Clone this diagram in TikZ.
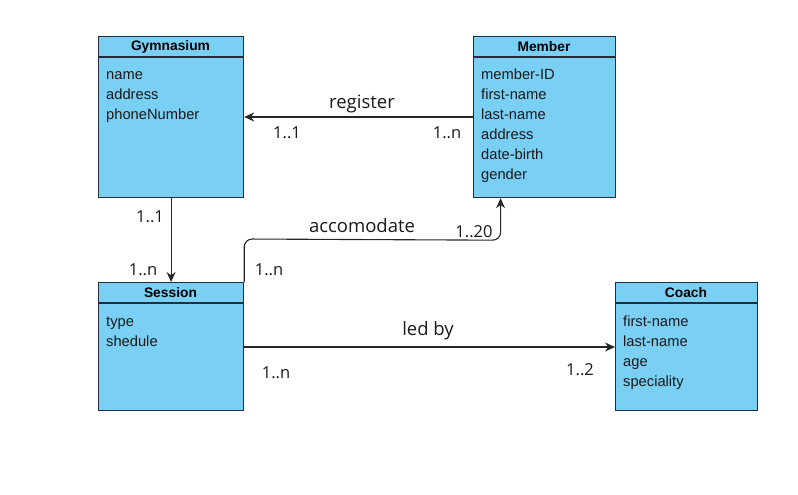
\documentclass[tikz,border=0pt]{standalone}
\usepackage{fontspec}
\setmainfont{Liberation Sans}
\newfontfamily\lblfont{Open Sans}
\usetikzlibrary{arrows.meta}
\definecolor{boxfill}{RGB}{122,207,245}
\definecolor{boxline}{RGB}{35,45,60}
\definecolor{txt}{RGB}{25,25,25}
\begin{document}
\begin{tikzpicture}[x=1pt,y=-1pt,
 entity/.style={draw=boxline, fill=boxfill, line width=1.2pt, rectangle, inner sep=0pt, anchor=north west},
 ttl/.style={font=\bfseries\fontsize{13.8}{16}\selectfont, anchor=center, inner sep=0pt, text=black},
 attrs/.style={font=\fontsize{14.7}{20}\selectfont, align=left, anchor=north west, inner sep=0pt, text=txt},
 lbl/.style={font=\lblfont\fontsize{18.5}{22}\selectfont, inner sep=0pt, text=txt},
 card/.style={font=\lblfont\fontsize{16.5}{20}\selectfont, inner sep=0pt, text=txt},
 conn/.style={draw=black!85, line width=1.1pt, -{Stealth[length=10pt,width=9pt]}},
 hdr/.style={draw=boxline, line width=1.2pt}
]
\useasboundingbox (0,0) rectangle (798,495);

% entities
\node[entity, minimum width=145pt, minimum height=161pt] (gym) at (98,36) {};
\node[entity, minimum width=142pt, minimum height=161pt] (mem) at (473,36) {};
\node[entity, minimum width=145pt, minimum height=128pt] (ses) at (98,282) {};
\node[entity, minimum width=142pt, minimum height=128pt] (coach) at (615,282) {};

\draw[hdr] ([yshift=-21pt]gym.north west) -- ([yshift=-21pt]gym.north east);
\draw[hdr] ([yshift=-21pt]mem.north west) -- ([yshift=-21pt]mem.north east);
\draw[hdr] ([yshift=-21pt]ses.north west) -- ([yshift=-21pt]ses.north east);
\draw[hdr] ([yshift=-21pt]coach.north west) -- ([yshift=-21pt]coach.north east);

\node[ttl] (gymt) at (170.5,46.5) {Gymnasium};
\node[ttl] (memt) at (544,46.5) {Member};
\node[ttl] (sest) at (170.5,292.5) {Session};
\node[ttl] (coacht) at (686,292.5) {Coach};

\node[attrs] (gyma) at (106,65) {\strut name\\address\\phoneNumber};
\node[attrs] (mema) at (481,65) {\strut member-ID\\first-name\\last-name\\address\\date-birth\\gender};
\node[attrs] (sesa) at (106,312) {\strut type\\shedule};
\node[attrs] (coacha) at (623,312) {\strut first-name\\last-name\\age\\speciality};

% connectors
\draw[conn] ([yshift=-81pt]mem.north west) -- ([yshift=-81pt]gym.north east);
\draw[conn] (gym.south) -- (ses.north);
\draw[conn, rounded corners=8pt] (ses.north east) -- ([yshift=43pt]ses.north east) -- ([xshift=-44pt,yshift=-42pt]mem.south) -- ([xshift=-44pt]mem.south);
\draw[conn] ([yshift=-65pt]ses.north east) -- ([yshift=-65pt]coach.north west);

% labels
\node[lbl] (lreg) at (362,104) {register};
\node[card] (c1) at (287,133) {1..1};
\node[card] (c2) at (447,133) {1..n};
\node[card] (c3) at (150,217) {1..1};
\node[card] (c4) at (143,270) {1..n};
\node[lbl] (lacc) at (362,226) {accomodate};
\node[card] (c5) at (474,232) {1..20};
\node[card] (c6) at (269,270) {1..n};
\node[lbl] (lled) at (428,331) {led by};
\node[card] (c7) at (276,373) {1..n};
\node[card] (c8) at (580,370) {1..2};
\end{tikzpicture}
\end{document}
